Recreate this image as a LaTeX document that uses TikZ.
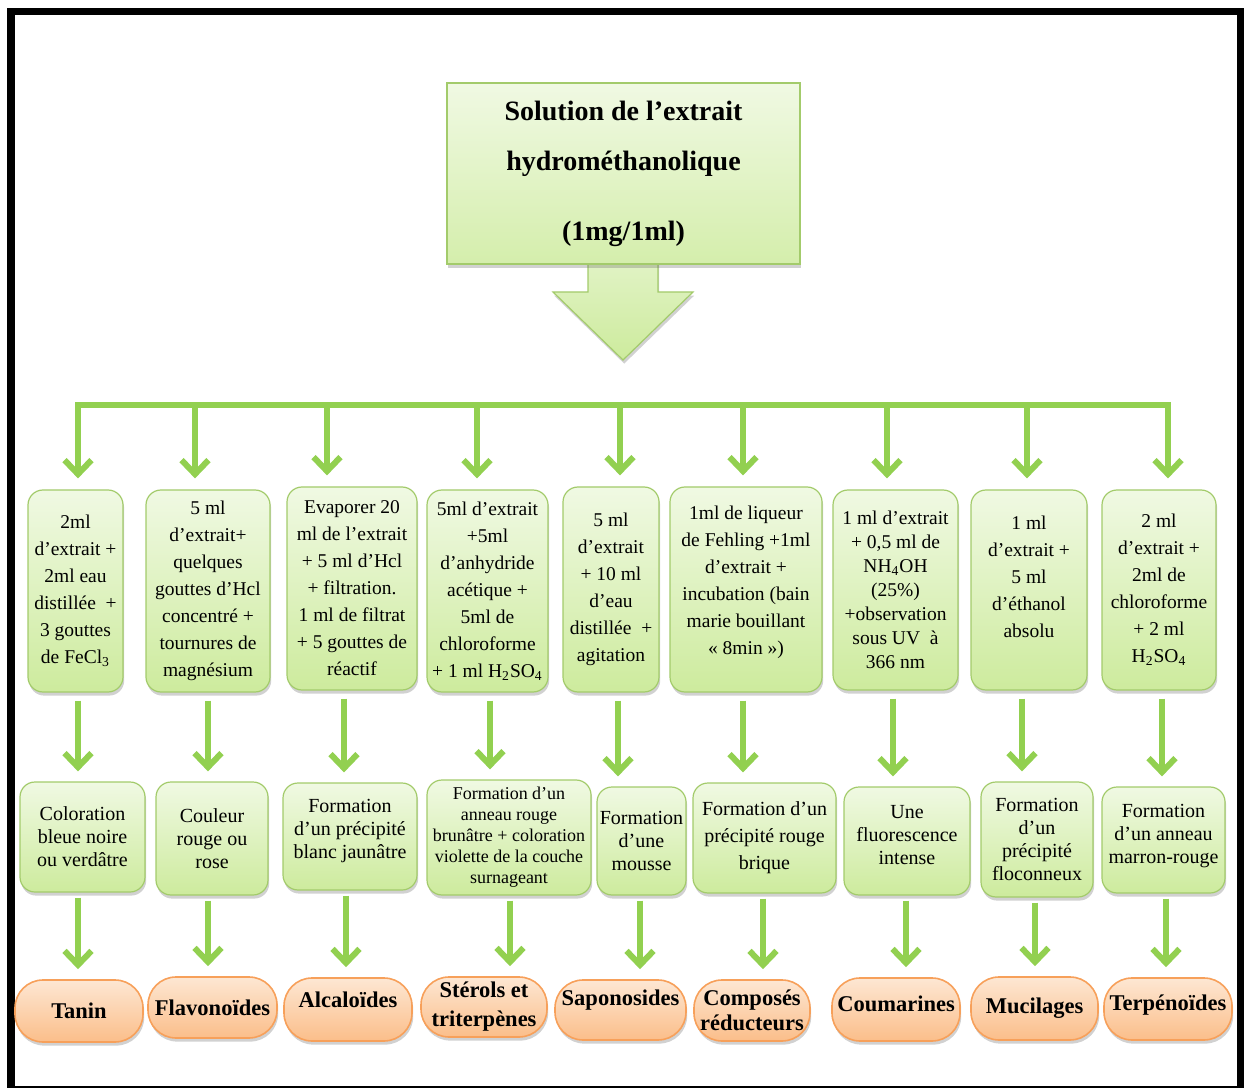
\documentclass[tikz,border=0pt]{standalone}
\usepackage{fontspec}
\setmainfont{Liberation Serif}
\usetikzlibrary{arrows.meta,shadows,calc}
\definecolor{arrgreen}{HTML}{92D050}
\definecolor{gtop}{HTML}{F0F9E3}
\definecolor{gbot}{HTML}{CDEB9D}
\definecolor{gborder}{HTML}{A3CB6B}
\definecolor{otop}{HTML}{FDE7D3}
\definecolor{obot}{HTML}{FBBE8A}
\definecolor{oborder}{HTML}{F7A05A}
\newcommand\liftt[2]{\raisebox{#1}[\height][\depth]{#2}}
\tikzset{
  shad/.style={drop shadow={shadow xshift=0.6pt, shadow yshift=-1.8pt, opacity=0.3, fill=black!60}},
  gbox/.style={draw=gborder, line width=0.6pt, rounded corners=7.5pt, top color=gtop, bottom color=gbot, align=center, inner sep=0pt, shad},
  obox/.style={draw=oborder, line width=0.8pt, rounded corners=14pt, top color=otop, bottom color=obot, align=center, inner sep=0pt, shad},
  tbox/.style={draw=gborder, line width=0.6pt, top color=gtop, bottom color=gbot!85!white, align=center, inner sep=0pt, shad, font=\bfseries\fontsize{14}{25}\selectfont},
  rowa/.style={gbox, font=\fontsize{9.75}{13.5}\selectfont},
  rowb/.style={gbox, font=\fontsize{10}{11.5}\selectfont},
  rowc/.style={obox, font=\bfseries\fontsize{11.25}{14.5}\selectfont},
  conn/.style={draw=arrgreen, line width=3pt, -{Straight Barb[length=7pt,width=13.5pt]}},
  bar/.style={draw=arrgreen, line width=3pt, line cap=rect},
}
\begin{document}
\begin{tikzpicture}[x=0.5pt, y=-0.5pt]
\useasboundingbox (0,0) rectangle (1247,1090);
% frame
\fill[black] (7,8) rectangle (1244,15);
\fill[black] (7,8) rectangle (15,1088);
\fill[black] (1237,8) rectangle (1244,1088);
\fill[black] (7,1086) rectangle (1244,1088);

% block arrow
\path[draw=gborder, line width=0.6pt, top color=gtop!60!gbot, bottom color=gbot, shad]
  (588,255) -- (588,292) -- (553,292) -- (623,360) -- (693,292) -- (658,292) -- (658,255) -- cycle;

% title
\node[tbox, minimum width=176.5pt, minimum height=90.5pt] (top) at (623.5,173.5)
  {Solution de l’extrait\\ hydrométhanolique\\[10pt] (1mg/1ml)};

% row 1
\node[rowa, minimum width=47.5pt, minimum height=101pt] (a1) at (75.5,591)
  {2ml\\ d’extrait +\\ 2ml eau\\ distillée~ +\\ 3 gouttes\\ de FeCl\textsubscript{3}};
\node[rowa, minimum width=62pt, minimum height=101pt] (a2) at (208,591)
  {5 ml\\ d’extrait+\\ quelques\\ gouttes d’Hcl\\ concentré +\\ tournures de\\ magnésium};
\node[rowa, minimum width=65pt, minimum height=101.5pt] (a3) at (352,588.5)
  {Evaporer 20\\ ml de l’extrait\\ + 5 ml d’Hcl\\ + filtration.\\ 1 ml de filtrat\\ + 5 gouttes de\\ réactif};
\node[rowa, minimum width=60.5pt, minimum height=101pt] (a4) at (487.5,591)
  {5ml d’extrait\\ +5ml\\ d’anhydride\\ acétique +\\ 5ml de\\ chloroforme\\ + 1 ml H\textsubscript{2}SO\textsubscript{4}};
\node[rowa, minimum width=48pt, minimum height=102.5pt] (a5) at (611,589.5)
  {5 ml\\ d’extrait\\ + 10 ml\\ d’eau\\ distillée~ +\\ agitation};
\node[rowa, minimum width=76pt, minimum height=102.5pt] (a6) at (746,589.5)
  {1ml de liqueur\\ de Fehling +1ml\\ d’extrait +\\ incubation (bain\\ marie bouillant\\ « 8min »)\\[-4pt]\mbox{}};
\node[rowa, minimum width=62.5pt, minimum height=100pt, font=\fontsize{9.75}{12}\selectfont] (a7) at (895.5,590)
  {1 ml d’extrait\\ + 0,5 ml de\\ NH\textsubscript{4}OH\\ (25\%)\\ +observation\\ sous UV~ à\\ 366 nm};
\node[rowa, minimum width=58pt, minimum height=100pt] (a8) at (1029,590)
  {1 ml\\ d’extrait +\\ 5 ml\\ d’éthanol\\ absolu\\ \mbox{}};
\node[rowa, minimum width=57pt, minimum height=100pt] (a9) at (1159,590)
  {2 ml\\ d’extrait +\\ 2ml de\\ chloroforme\\ + 2 ml\\ H\textsubscript{2}SO\textsubscript{4}};

% row 2
\node[rowb, minimum width=62.5pt, minimum height=55pt] (b1) at (82.5,837)
  {Coloration\\ bleue noire\\ ou verdâtre};
\node[rowb, minimum width=56pt, minimum height=56.5pt] (b2) at (212,838.5)
  {Couleur\\ rouge ou\\ rose};
\node[rowb, minimum width=67pt, minimum height=53.5pt] (b3) at (350,836.5)
  {\liftt{3pt}{\begin{tabular}{@{}c@{}}Formation\\ d’un précipité\\ blanc jaunâtre\end{tabular}}};
\node[rowb, minimum width=82pt, minimum height=57.5pt, font=\fontsize{9}{10.5}\selectfont] (b4) at (509,837.5)
  {Formation d’un\\ anneau rouge\\ brunâtre + coloration\\ violette de la couche\\ surnageant};
\node[rowb, minimum width=44.5pt, minimum height=54pt] (b5) at (641.5,841)
  {Formation\\ d’une\\ mousse};
\node[rowb, minimum width=71.5pt, minimum height=55pt, font=\fontsize{10}{13.5}\selectfont] (b6) at (764.5,838)
  {Formation d’un\\ précipité rouge\\ brique};
\node[rowb, minimum width=63pt, minimum height=54pt] (b7) at (907,841)
  {Une\\ fluorescence\\ intense\\[-5pt]\mbox{}};
\node[rowb, minimum width=56pt, minimum height=57.5pt] (b8) at (1037,839.5)
  {Formation\\ d’un\\ précipité\\ floconneux};
\node[rowb, minimum width=61.5pt, minimum height=53pt] (b9) at (1163.5,840)
  {Formation\\ d’un anneau\\ marron-rouge\\[-5pt]\mbox{}};

% row 3
\node[rowc, minimum width=64pt, minimum height=31pt] (c1) at (79,1011) {Tanin};
\node[rowc, minimum width=64.5pt, minimum height=30.5pt] (c2) at (212.5,1007.5) {Flavonoïdes};
\node[rowc, minimum width=64pt, minimum height=31.5pt] (c3) at (348,1009.5) {\liftt{5pt}{Alcaloïdes}};
\node[rowc, minimum width=63pt, minimum height=30pt] (c4) at (484,1007) {Stérols et\\ triterpènes};
\node[rowc, minimum width=65.5pt, minimum height=30pt] (c5) at (620.5,1010) {\liftt{5pt}{Saponosides}};
\node[rowc, minimum width=58pt, minimum height=30.5pt, font=\bfseries\fontsize{11.25}{12.5}\selectfont] (c6) at (752,1010.5) {Composés\\ réducteurs};
\node[rowc, minimum width=64pt, minimum height=31.5pt] (c7) at (896,1009.5) {\liftt{3pt}{Coumarines}};
\node[rowc, minimum width=63.5pt, minimum height=31.5pt] (c8) at (1034.5,1008.5) {Mucilages};
\node[rowc, minimum width=64pt, minimum height=31pt] (c9) at (1168,1009) {\liftt{2pt}{Terpénoïdes}};

% connectors
\foreach \i/\x in {1/78,2/195,3/327,4/477,5/620,6/743,7/887,8/1027,9/1168}
  \coordinate (p\i) at (\x,405);
\draw[bar] (p1) -- (p9);
\foreach \i in {1,...,9}
  \draw[conn, shorten >=5.5pt] (p\i) -- (a\i.north -| p\i);
\foreach \i/\x in {1/78,2/208,3/344,4/490,5/618,6/743,7/893,8/1022,9/1162} {
  \coordinate (q\i) at (\x,0);
  \draw[conn, shorten <=4pt, shorten >=5pt] (a\i.south -| q\i) -- (b\i.north -| q\i);
}
\foreach \i/\x in {1/78,2/208,3/346,4/510,5/640,6/763,7/906,8/1035,9/1166} {
  \coordinate (r\i) at (\x,0);
  \draw[conn, shorten <=2.5pt, shorten >=5pt] (b\i.south -| r\i) -- (c\i.north -| r\i);
}
\end{tikzpicture}
\end{document}
